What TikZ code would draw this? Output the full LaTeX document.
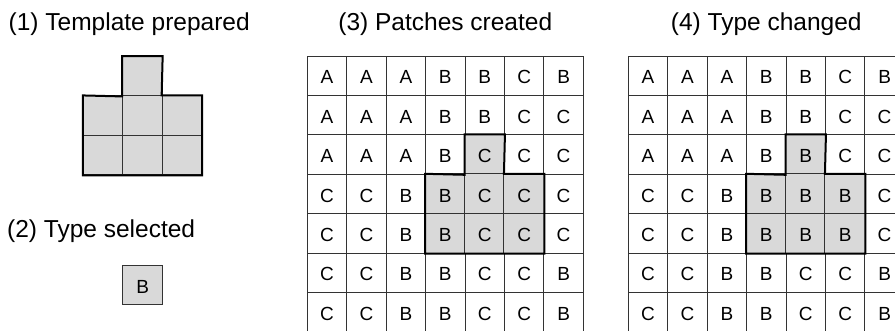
\documentclass[tikz,border=0pt]{standalone}
\usepackage{fontspec}
\setmainfont{Liberation Sans}
\begin{document}
\begin{tikzpicture}[x=1pt,y=-1pt,
  cell/.style={draw=black!80, line width=1pt, minimum size=39.43pt, inner sep=0pt},
  letter/.style={font=\fontsize{19}{19}\selectfont, inner sep=0pt, yshift=-1.5pt},
  hl/.style={fill=black!15},
  outline/.style={draw=black, line width=2pt, line join=miter},
  title/.style={font=\fontsize{24.5}{24.5}\selectfont, inner sep=0pt}]
\clip (0,0) rectangle (895,330);
\fill[white] (0,0) rectangle (895,330);
\def\s{39.43}
% titles
\node[title, anchor=base west] (t1) at (8.5,30) {(1) Template prepared};
\node[title, anchor=base west] (t2) at (7,237) {(2) Type selected};
\node[title, anchor=base] (t3) at (445.3,30) {(3) Patches created};
\node[title, anchor=base] (t4) at (766.3,30) {(4) Type changed};
% template
\begin{scope}[shift={(83.3,56.5)}]
  \node[cell, hl] (tp-1-2) at (1.5*\s,0.5*\s) {};
  \foreach \r in {2,3}{
    \foreach \c in {1,2,3}{
      \node[cell, hl] (tp-\r-\c) at ({(\c-0.5)*\s},{(\r-0.5)*\s}) {};
    }
  }
\end{scope}
\draw[outline] (tp-1-2.north west) -- (tp-1-2.north east) -- (tp-2-3.north west)
  -- (tp-2-3.north east) -- (tp-3-3.south east) -- (tp-3-1.south west)
  -- (tp-2-1.north west) -- (tp-1-2.south west) -- cycle;
% selected type
\node[cell, hl] (sel) at (142.7,285.2) {};
\node[letter] (selB) at (sel.center) {B};
% grid 3
\begin{scope}[shift={(307.3,56)}]
  \foreach \row [count=\r] in {{A,A,A,B,B,C,B},{A,A,A,B,B,C,C},{A,A,A,B,C,C,C},
      {C,C,B,B,C,C,C},{C,C,B,B,C,C,C},{C,C,B,B,C,C,B},{C,C,B,B,C,C,B}}{
    \foreach \l [count=\c] in \row {
      \node[cell] (ga-\r-\c) at ({(\c-0.5)*\s},{(\r-0.5)*\s}) {};
    }
  }
\end{scope}
% grid 4
\begin{scope}[shift={(628.3,56)}]
  \foreach \row [count=\r] in {{A,A,A,B,B,C,B},{A,A,A,B,B,C,C},{A,A,A,B,B,C,C},
      {C,C,B,B,B,B,C},{C,C,B,B,B,B,C},{C,C,B,B,C,C,B},{C,C,B,B,C,C,B}}{
    \foreach \l [count=\c] in \row {
      \node[cell] (gb-\r-\c) at ({(\c-0.5)*\s},{(\r-0.5)*\s}) {};
    }
  }
\end{scope}
% highlighted patches
\foreach \g in {ga,gb}{
  \foreach \rc in {3-5,4-4,4-5,4-6,5-4,5-5,5-6}{
    \fill[black!15] (\g-\rc.north west) rectangle (\g-\rc.south east);
    \draw[black!80, line width=1pt] (\g-\rc.north west) rectangle (\g-\rc.south east);
  }
}
% letters
\foreach \row [count=\r] in {{A,A,A,B,B,C,B},{A,A,A,B,B,C,C},{A,A,A,B,C,C,C},
    {C,C,B,B,C,C,C},{C,C,B,B,C,C,C},{C,C,B,B,C,C,B},{C,C,B,B,C,C,B}}{
  \foreach \l [count=\c] in \row {
    \node[letter] (la-\r-\c) at (ga-\r-\c.center) {\l};
  }
}
\foreach \row [count=\r] in {{A,A,A,B,B,C,B},{A,A,A,B,B,C,C},{A,A,A,B,B,C,C},
    {C,C,B,B,B,B,C},{C,C,B,B,B,B,C},{C,C,B,B,C,C,B},{C,C,B,B,C,C,B}}{
  \foreach \l [count=\c] in \row {
    \node[letter] (lb-\r-\c) at (gb-\r-\c.center) {\l};
  }
}
\foreach \g in {ga,gb}{
  \draw[outline] (\g-3-5.north west) -- (\g-3-5.north east) -- (\g-4-6.north west)
    -- (\g-4-6.north east) -- (\g-5-6.south east) -- (\g-5-4.south west)
    -- (\g-4-4.north west) -- (\g-3-5.south west) -- cycle;
}
\end{tikzpicture}
\end{document}
